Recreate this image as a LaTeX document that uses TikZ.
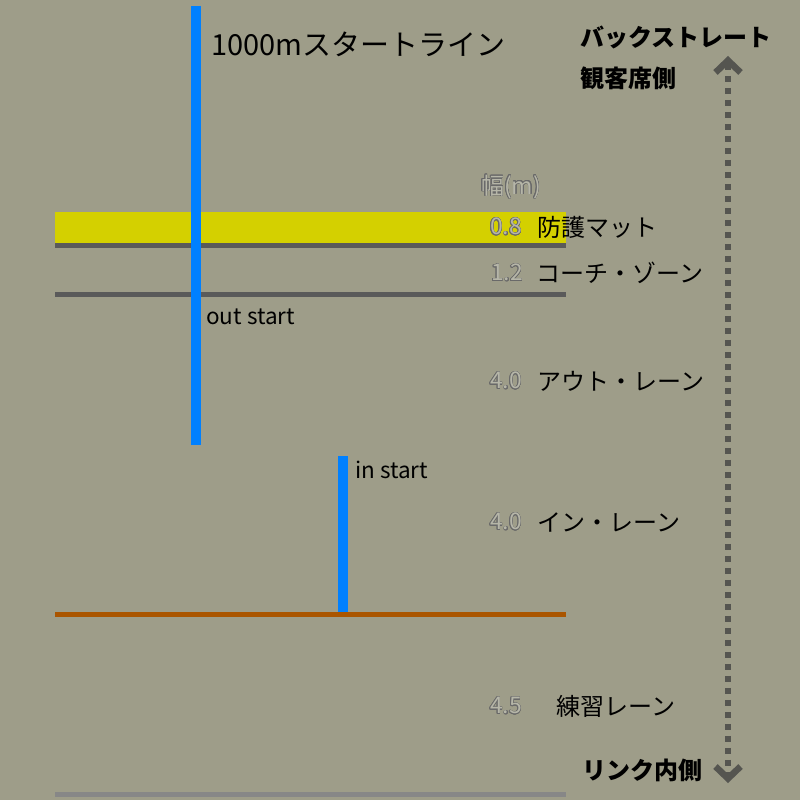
\documentclass[tikz,border=0pt]{standalone}
\usepackage{fontspec}
\setmainfont{Noto Sans CJK JP}
\usepackage{contour}
\contourlength{0.5pt}
\usetikzlibrary{arrows.meta}

\definecolor{bgkhaki}{RGB}{158,157,137}
\definecolor{matyellow}{RGB}{212,208,0}
\definecolor{startblue}{RGB}{0,128,255}
\definecolor{lanegrey}{RGB}{90,90,90}
\definecolor{innerorange}{RGB}{170,85,0}
\definecolor{rinkgrey}{RGB}{135,135,135}
\definecolor{arrowgrey}{RGB}{85,85,80}
\definecolor{numfill}{RGB}{182,182,168}
\definecolor{numline}{RGB}{105,105,105}

\newcommand{\lanewidth}[1]{{\color{numfill}\contour{numline}{#1}}}

\begin{document}
\begin{tikzpicture}[x=1pt,y=-1pt,
  lane/.style={line width=5pt},
  startline/.style={line width=10pt,draw=startblue},
  lbl/.style={anchor=west,inner sep=0pt,font=\fontsize{24}{24}\selectfont},
  numlbl/.style={anchor=west,inner sep=0pt,font=\fontsize{23}{23}\selectfont},
  headlbl/.style={anchor=west,inner sep=0pt,font=\fontsize{24}{24}\selectfont\bfseries},
  startlbl/.style={anchor=west,inner sep=0pt,font=\fontsize{22.5}{22.5}\selectfont},
  chevron/.tip={Straight Barb[length=12pt,width=25pt,line width=6.5pt]}]
\fill[bgkhaki] (0,0) rectangle (800,800);
\useasboundingbox (0,0) rectangle (800,800);

% protective mat
\fill[matyellow] (55,212) rectangle (566,243);

\coordinate (m1) at (55,245.5);
\coordinate (m2) at (566,245.5);
\coordinate (c1) at (55,294.5);
\coordinate (c2) at (566,294.5);
\coordinate (i1) at (55,614.5);
\coordinate (i2) at (566,614.5);
\coordinate (r1) at (55,794.5);
\coordinate (r2) at (566,794.5);
\coordinate (o1) at (196,6);
\coordinate (o2) at (196,445);
\coordinate (n1) at (343,456);
\coordinate (n2) at (343,612);
\coordinate (up) at (728,56);
\coordinate (dn) at (728,783);

\draw[lane,draw=lanegrey]
(m1) to (m2)
(c1) to (c2);
\draw[lane,draw=innerorange] (i1) to (i2);
\draw[lane,draw=rinkgrey] (r1) to (r2);
\draw[startline]
(o1) to (o2)
(n1) to (n2);

\node (title) at (211,44) [anchor=west,inner sep=0pt,font=\fontsize{29}{29}\selectfont] {1000mスタートライン};
\node (os) at (206,317) [startlbl] {out start};
\node (is) at (355,470) [startlbl] {in start};

\node (bs) at (580,37) [headlbl] {バックストレート};
\node (ks) at (580,78) [headlbl] {観客席側};
\node (rn) at (582,770) [headlbl] {リンク内側};

\node (hw) at (481,187) [numlbl] {\lanewidth{幅(m)}};
\node (w1) at (490,227) [numlbl] {\lanewidth{0.8}};
\node (l1) at (537,227) [lbl] {防護マット};
\node (w2) at (491,273) [numlbl] {\lanewidth{1.2}};
\node (l2) at (536,273) [lbl] {コーチ・ゾーン};
\node (w3) at (490,381) [numlbl] {\lanewidth{4.0}};
\node (l3) at (537,381) [lbl] {アウト・レーン};
\node (w4) at (490,522) [numlbl] {\lanewidth{4.0}};
\node (l4) at (537,522) [lbl] {イン・レーン};
\node (w5) at (490,706) [numlbl] {\lanewidth{4.5}};
\node (l5) at (556,706) [lbl] {練習レーン};

\draw[arrowgrey,line width=6pt,dash pattern=on 6pt off 6pt,chevron-chevron]
(up) to (dn);
\end{tikzpicture}
\end{document}
